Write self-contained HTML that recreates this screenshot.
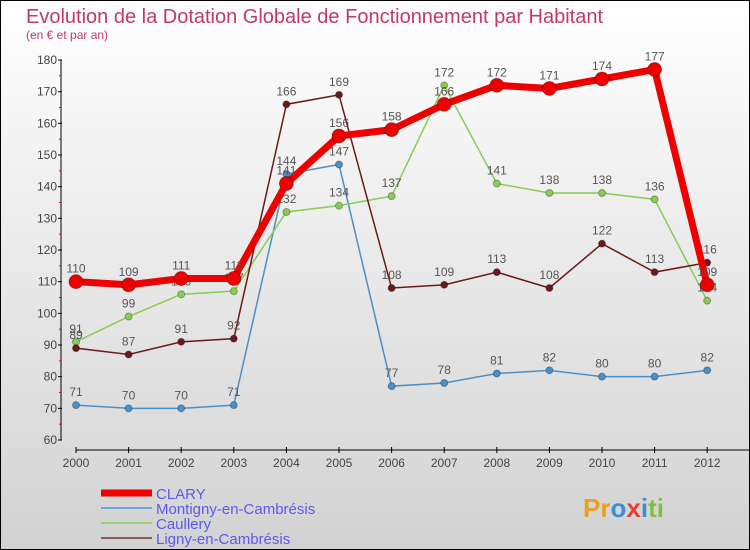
<!DOCTYPE html>
<html><head><meta charset="utf-8"><style>
body{margin:0}
#c{position:relative;width:748px;height:548px;border:1px solid #000;background:linear-gradient(#fff,#d2d2d2);font-family:"Liberation Sans",sans-serif;overflow:hidden}
</style></head><body>
<div id="c">
<svg width="748" height="548" id="s">
<text x="25" y="22" font-size="20" fill="#c23a64">Evolution de la Dotation Globale de Fonctionnement par Habitant</text>
<text x="25" y="38" font-size="12" fill="#c23a64">(en € et par an)</text>
<g id="axes"></g><g id="series"></g><g id="legend"></g>
<text x="582" y="516" font-size="26" font-weight="bold"><tspan fill="#e8a020">Pr</tspan><tspan fill="#3a90d0">o</tspan><tspan fill="#e84030">x</tspan><tspan fill="#3a90d0">i</tspan><tspan fill="#80c040">ti</tspan></text>
</svg></div>
<script>
const years=["2000","2001","2002","2003","2004","2005","2006","2007","2008","2009","2010","2011","2012"];
const yTicks=[60,70,80,90,100,110,120,130,140,150,160,170,180];
const clary=[110,109,111,111,141,156,158,166,172,171,174,177,109];
const montigny=[71,70,70,71,144,147,77,78,81,82,80,80,82];
const caullery=[91,99,106,107,132,134,137,172,141,138,138,136,104];
const ligny=[89,87,91,92,166,169,108,109,113,108,122,113,116];
const NS="http://www.w3.org/2000/svg";
const X=i=>75+i*52.6, Y=v=>439-(v-60)*(380/120);
function mk(t,a,p){const e=document.createElementNS(NS,t);for(const k in a)e.setAttribute(k,a[k]);p.appendChild(e);return e;}
const ax=document.getElementById('axes');
let l=mk('line',{x1:60,y1:Y(180),x2:60,y2:Y(60),stroke:'#000'},ax);


l=mk('line',{x1:75,y1:449,x2:748,y2:449,stroke:'#000'},ax);


yTicks.forEach(v=>{mk('line',{x1:57,y1:Y(v),x2:61,y2:Y(v),stroke:'#000'},ax);
 if(v<180)mk('line',{x1:58,y1:Y(v+5),x2:60,y2:Y(v+5),stroke:'#f00'},ax);
 const t=mk('text',{x:56,y:Y(v)+4,'font-size':12,fill:'#444','text-anchor':'end'},ax);t.textContent=v;
 
 });
years.forEach((y,i)=>{mk('line',{x1:X(i),y1:446,x2:X(i),y2:452,stroke:'#000'},ax);
 const t=mk('text',{x:X(i),y:466,'font-size':12,fill:'#444','text-anchor':'middle'},ax);t.textContent=y;
 
 });
const sg=document.getElementById('series');
function draw(d,col,w,r,name){const g=mk('g',{},sg);
 
 
 mk('polyline',{points:d.map((v,i)=>X(i)+','+Y(v)).join(' '),fill:'none',stroke:col,'stroke-width':w},g);
 d.forEach((v,i)=>{const c=mk('circle',{cx:X(i),cy:Y(v),r:r,fill:col,stroke:'rgba(0,0,0,0.3)'},g);
 
 
 const t=mk('text',{x:X(i),y:Y(v)-9,'font-size':12,fill:'#555','text-anchor':'middle'},g);t.textContent=v;
 
 });}
draw(montigny,'#4a90c8',1.5,3.5,'montigny');
draw(caullery,'#88cc55',1.5,3.5,'caullery');
draw(ligny,'#6b1a1a',1.5,3.5,'ligny');
draw(clary,'#ee0000',7,7,'clary');
const lg=document.getElementById('legend');
[['CLARY','#ee0000',7],['Montigny-en-Cambrésis','#6aa8d8',2],['Caullery','#99d070',2],['Ligny-en-Cambrésis','#8a5a5a',2]].forEach((e,i)=>{
 const y=492+i*15;const g=mk('g',{},lg);
 
 
 mk('line',{x1:100,y1:y,x2:151,y2:y,stroke:e[1],'stroke-width':e[2]},g);
 const t=mk('text',{x:155,y:y+6,'font-size':15,fill:'#5a5af0'},g);t.textContent=e[0];});
</script></body></html>
